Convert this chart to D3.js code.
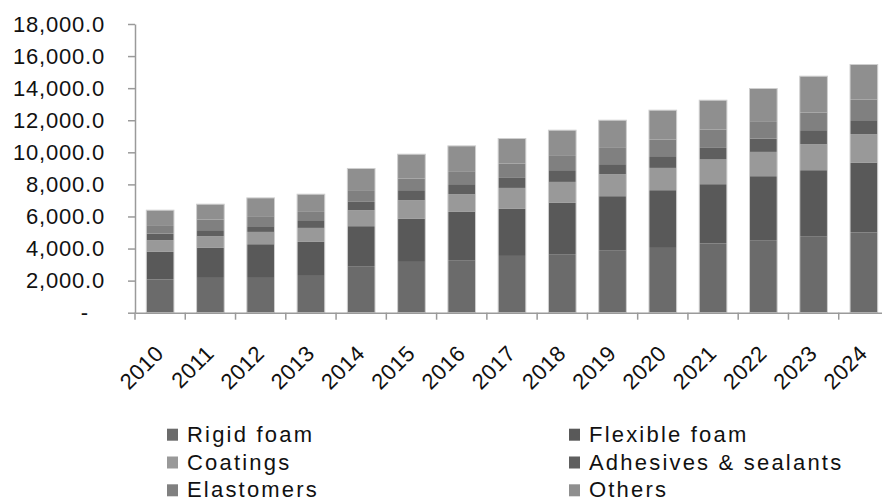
<!DOCTYPE html>
<html>
<head>
<meta charset="utf-8">
<script src="https://cdn.jsdelivr.net/npm/d3@7"></script>
<style>
	body { margin: 0; background: #fff; }
	svg { display: block; font-family: "Liberation Sans", Arial, sans-serif; }
	.axis path, .axis line { stroke: #9a9a9a; stroke-width: 1.5; }
	.axis text { fill: #111; font-size: 22px; }
	.legend text { fill: #111; font-size: 22px; letter-spacing: 2.2px; }
</style>
</head>
<body>
<svg id="chart"></svg>
<script>
const width = 882, height = 501;

const years = ['2010', '2011', '2012', '2013', '2014', '2015', '2016', '2017', '2018', '2019', '2020', '2021', '2022', '2023', '2024'];
const seriesNames = ['Rigid foam', 'Flexible foam', 'Coatings', 'Adhesives & sealants', 'Elastomers', 'Others'];
const rigidFoam    = [2070, 2170, 2170, 2295, 2900, 3167, 3273, 3540, 3647, 3897, 4040, 4315, 4520, 4770, 5000];
const flexibleFoam = [1721, 1870, 2100, 2119, 2494, 2706, 3012, 2956, 3224, 3367, 3598, 3697, 3991, 4115, 4365];
const coatings     = [729, 730, 767, 873, 998, 1141, 1103, 1284, 1284, 1371, 1390, 1540, 1515, 1621, 1765];
const adhesives    = [418, 374, 355, 480, 518, 624, 624, 624, 730, 624, 730, 723, 835, 873, 872];
const elastomers   = [518, 667, 624, 518, 729, 729, 767, 898, 935, 1016, 1041, 1147, 1035, 1103, 1291];
const others       = [935, 954, 1141, 1103, 1353, 1515, 1621, 1558, 1559, 1727, 1827, 1827, 2083, 2264, 2182];
const yTicks = [0, 2000, 4000, 6000, 8000, 10000, 12000, 14000, 16000, 18000];

const colors = ['#6b6b6b', '#595959', '#999999', '#5f5f5f', '#808080', '#8f8f8f'];

// rows for d3.stack
const table = years.map((y, i) => ({
	year: y,
	'Rigid foam': rigidFoam[i],
	'Flexible foam': flexibleFoam[i],
	'Coatings': coatings[i],
	'Adhesives & sealants': adhesives[i],
	'Elastomers': elastomers[i],
	'Others': others[i]
}));

const xScale = d3.scaleBand()
	.domain(years)
	.range([135, 889])
	.paddingInner(0.45)
	.paddingOuter(0.225);

const yScale = d3.scaleLinear()
	.domain([0, 18000])
	.range([312.7, 24]);

const color = d3.scaleOrdinal().domain(seriesNames).range(colors);

const canvas = d3.select('#chart')
	.attr('width', width)
	.attr('height', height);

const stacked = d3.stack().keys(seriesNames)(table);

canvas.append('g')
	.selectAll('g')
	.data(stacked)
	.enter()
	.append('g')
	.attr('fill', d => color(d.key))
	.selectAll('rect')
	.data(d => d)
	.enter()
	.append('rect')
	.attr('x', d => xScale(d.data.year))
	.attr('y', d => yScale(d[1]))
	.attr('width', xScale.bandwidth())
	.attr('height', d => yScale(d[0]) - yScale(d[1]));

// light outline round each whole bar
const topLayer = stacked[stacked.length - 1];
canvas.append('g')
	.selectAll('rect')
	.data(topLayer)
	.enter()
	.append('rect')
	.attr('x', d => xScale(d.data.year))
	.attr('y', d => yScale(d[1]))
	.attr('width', xScale.bandwidth())
	.attr('height', d => yScale(0) - yScale(d[1]))
	.attr('fill', 'none')
	.attr('stroke', '#cfcfcf')
	.attr('stroke-width', 1);

// y axis
const yAxis = canvas.append('g')
	.attr('class', 'axis')
	.attr('transform', `translate(${xScale.range()[0]},0)`)
	.call(d3.axisLeft(yScale)
		.tickValues(yTicks)
		.tickSizeInner(7)
		.tickSizeOuter(0)
		.tickPadding(23)
		.tickFormat(d => d === 0 ? '-' : d3.format(',.1f')(d)));
yAxis.selectAll('text')
	.attr('font-family', '"Liberation Sans", Arial, sans-serif')
	.style('letter-spacing', '0.8px')
	.attr('dx', d => d === 0 ? -16 : 0);

// x axis: labels at band centres, ticks at band edges
const xAxis = canvas.append('g')
	.attr('class', 'axis')
	.attr('transform', `translate(0,${yScale(0)})`)
	.call(d3.axisBottom(xScale).tickSize(0).tickPadding(0));
xAxis.selectAll('text')
	.attr('y', 0)
	.attr('dy', 0)
	.attr('font-family', '"Liberation Sans", Arial, sans-serif')
	.style('letter-spacing', '0.5px')
	.attr('text-anchor', 'end')
	.attr('transform', 'translate(5,42) rotate(-45)');

const gap = (xScale.step() - xScale.bandwidth()) / 2;
const edges = years.map(y => xScale(y) - gap).concat([xScale.range()[1]]);
xAxis.selectAll('.edge')
	.data(edges)
	.enter()
	.append('line')
	.attr('class', 'edge')
	.attr('x1', d => d)
	.attr('x2', d => d)
	.attr('y1', 0)
	.attr('y2', 7);

// legend, two columns
const legend = canvas.append('g')
	.attr('class', 'legend')
	.selectAll('g')
	.data(seriesNames)
	.enter()
	.append('g')
	.attr('transform', (d, i) => `translate(${i % 2 === 0 ? 167 : 569},${441.7 + Math.floor(i / 2) * 27.8})`);

legend.append('rect')
	.attr('x', 0)
	.attr('y', -13)
	.attr('width', 11)
	.attr('height', 12)
	.attr('fill', d => color(d));

legend.append('text')
	.attr('x', 20)
	.attr('y', 0)
	.text(d => d);
</script>
</body>
</html>
